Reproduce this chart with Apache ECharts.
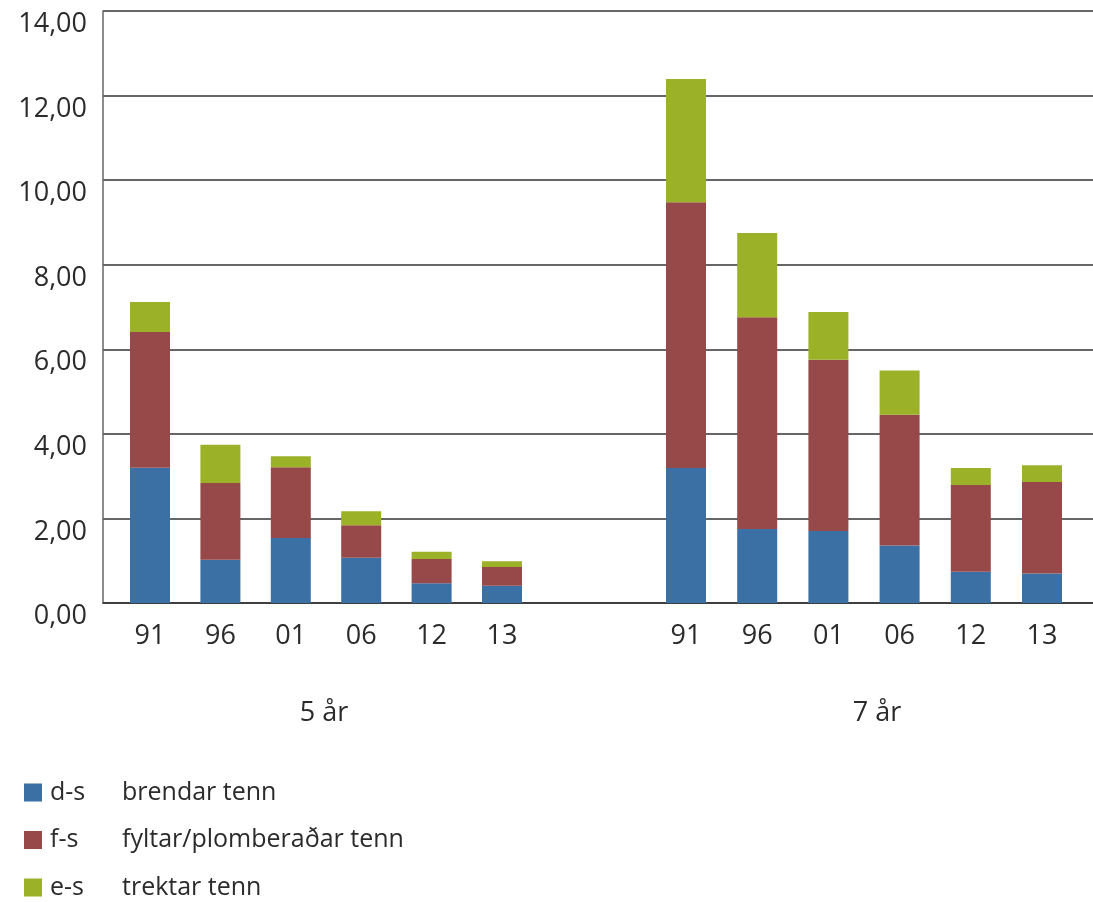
<!DOCTYPE html>
<html>
<head>
<meta charset="utf-8">
<script src="https://cdn.jsdelivr.net/npm/echarts@6/dist/echarts.min.js"></script>
<style>
html,body{margin:0;padding:0;background:#fff;}
#c{width:1093px;height:902px;}
</style>
</head>
<body>
<div id="c"></div>
<script>
// ---- data ----
const years = ['91', '96', '01', '06', '12', '13'];
const groups = ['5 år', '7 år'];
const codes = ['d-s', 'f-s', 'e-s'];
const descriptions = ['brendar tenn', 'fyltar/plomberaðar tenn', 'trektar tenn'];
const ds5 = [3.20, 1.02, 1.54, 1.07, 0.47, 0.41];
const fs5 = [3.21, 1.82, 1.67, 0.77, 0.57, 0.44];
const es5 = [0.71, 0.90, 0.26, 0.33, 0.17, 0.14];
const ds7 = [3.19, 1.75, 1.70, 1.36, 0.74, 0.70];
const fs7 = [6.29, 5.01, 4.05, 3.09, 2.05, 2.16];
const es7 = [2.91, 1.99, 1.13, 1.05, 0.40, 0.40];
const yMin = 0, yMax = 14, yStep = 2;

// ---- style ----
const colors = ['#3b70a5', '#974849', '#9bb128'];
const FONT = 'Open Sans';
const TXT = '#2b2b2b';
const TOP = 11, BOTTOM = 299;

const chart = echarts.init(document.getElementById('c'), null, {renderer: 'canvas'});

const fmt = v => v.toFixed(2).replace('.', ',');

function groupX(i, nameShift) {
  return {
    type: 'category', gridIndex: i, data: years,
    axisLine: {show: false}, axisTick: {show: false},
    axisLabel: {fontFamily: FONT, fontSize: 27, color: TXT, margin: 20},
    name: groups[i - 1], nameLocation: 'middle', nameGap: 97,
    nameTextStyle: {fontFamily: FONT, fontSize: 27, color: TXT,
      padding: nameShift > 0 ? [0, 0, 0, nameShift * 2] : [0, -nameShift * 2, 0, 0]}
  };
}
function hiddenY(i) {
  return {type: 'value', gridIndex: i, min: yMin, max: yMax, interval: yStep, show: false};
}

const sets = [[ds5, fs5, es5], [ds7, fs7, es7]];
const series = [];
sets.forEach((set, g) => {
  set.forEach((vals, k) => {
    series.push({
      type: 'bar', name: codes[k], stack: 'g' + g,
      xAxisIndex: g + 1, yAxisIndex: g + 1,
      barWidth: 40, data: vals,
      itemStyle: {color: colors[k]},
      emphasis: {disabled: true}
    });
  });
});

const legends = codes.map((c, k) => ({
  data: [c], left: 24, top: 780 + k * 47.5, orient: 'vertical', padding: 0,
  itemWidth: 18, itemHeight: 18, icon: 'rect', selectedMode: false,
  formatter: name => '{a|' + name + '}{b|' + descriptions[codes.indexOf(name)] + '}',
  textStyle: {
    fontFamily: FONT, fontSize: 25, color: TXT,
    rich: {
      a: {fontFamily: FONT, fontSize: 25, color: TXT, width: 72, padding: [0, 0, 0, 3]},
      b: {fontFamily: FONT, fontSize: 25, color: TXT}
    }
  }
}));

chart.setOption({
  animation: false,
  backgroundColor: '#fff',
  legend: legends,
  grid: [
    {left: 103, right: 0, top: TOP, bottom: BOTTOM},
    {left: 114.8, width: 422.4, top: TOP, bottom: BOTTOM},
    {left: 650.4, width: 427.2, top: TOP, bottom: BOTTOM}
  ],
  xAxis: [
    {type: 'category', gridIndex: 0, data: [''],
      axisLine: {show: true, lineStyle: {color: '#333', width: 1.5}},
      axisTick: {show: false}, axisLabel: {show: false}, splitLine: {show: false}},
    groupX(1, -2),
    groupX(2, 13)
  ],
  yAxis: [
    {type: 'value', gridIndex: 0, min: yMin, max: yMax, interval: yStep,
      axisLine: {show: true, lineStyle: {color: '#666', width: 1.5}},
      axisTick: {show: false},
      axisLabel: {fontFamily: FONT, fontSize: 27, color: TXT, margin: 16,
        formatter: fmt, verticalAlign: 'top'},
      splitLine: {show: true, lineStyle: {color: '#333', width: 1.5}}},
    hiddenY(1), hiddenY(2)
  ],
  series: series
});
</script>
</body>
</html>
